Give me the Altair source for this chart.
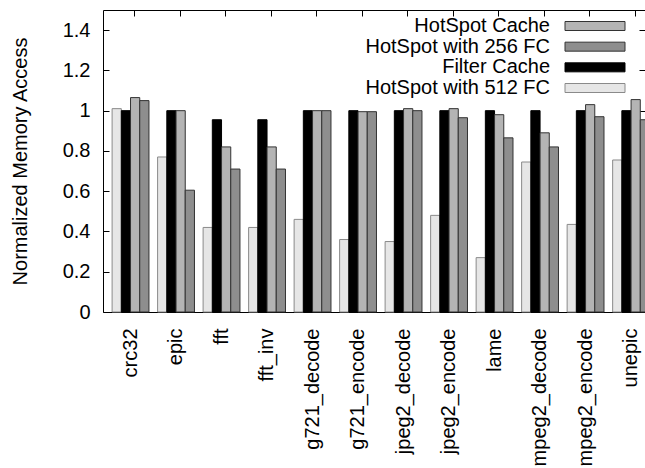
import altair as alt
import pandas as pd

categories = ["crc32", "epic", "fft", "fft_inv", "g721_decode", "g721_encode",
              "jpeg2_decode", "jpeg2_encode", "lame", "mpeg2_decode",
              "mpeg2_encode", "unepic"]
bar_order = ["HotSpot with 512 FC", "Filter Cache", "HotSpot Cache", "HotSpot with 256 FC"]
legend_order = ["HotSpot Cache", "HotSpot with 256 FC", "Filter Cache", "HotSpot with 512 FC"]

hs512 = [1.01, 0.77, 0.42, 0.42, 0.46, 0.36, 0.35, 0.48, 0.27, 0.745, 0.435, 0.755]
filter_cache = [1.0, 1.0, 0.955, 0.955, 1.0, 1.0, 1.0, 1.0, 1.0, 1.0, 1.0, 1.0]
hotspot_cache = [1.065, 1.0, 0.82, 0.82, 1.0, 0.995, 1.01, 1.01, 0.98, 0.89, 1.03, 1.055]
hs256 = [1.05, 0.605, 0.71, 0.71, 1.0, 0.995, 1.0, 0.965, 0.865, 0.82, 0.97, 0.955]

y_ticks = [0, 0.2, 0.4, 0.6, 0.8, 1.0, 1.2, 1.4]

series_values = {
    "HotSpot with 512 FC": hs512,
    "Filter Cache": filter_cache,
    "HotSpot Cache": hotspot_cache,
    "HotSpot with 256 FC": hs256,
}
rows = []
for s, vals in series_values.items():
    for c, v in zip(categories, vals):
        rows.append({"cat": c, "series": s, "value": v})
df = pd.DataFrame(rows)
legend_df = pd.DataFrame({"series": legend_order})

FONT = "Liberation Sans"
fill_scale = alt.Scale(domain=legend_order, range=["#b4b4b4", "#8e8e8e", "#000000", "#e6e6e6"])
stroke_scale = alt.Scale(domain=legend_order, range=["#333333", "#333333", "#000000", "#8a8a8a"])
x_scale = alt.Scale(domain=categories, paddingInner=0.19, paddingOuter=0.2, range=[0, 555.6])
y_scale = alt.Scale(domain=[0, 1.5], nice=False, zero=True)

bars = alt.Chart(df).mark_bar(strokeWidth=1).encode(
    x=alt.X("cat:N", scale=x_scale, sort=categories,
            axis=alt.Axis(orient="bottom", domain=False, ticks=False, labelAngle=270,
                          labelAlign="right", labelBaseline="middle", labelPadding=16,
                          labelFontSize=20, bandPosition=0.677, title=None, grid=False)),
    xOffset=alt.XOffset("series:N", scale=alt.Scale(domain=bar_order)),
    y=alt.Y("value:Q", scale=y_scale,
            axis=alt.Axis(orient="left", values=y_ticks, format=".1~f", domain=False,
                          tickSize=6, offset=-6, labelPadding=13, labelFontSize=20,
                          title="Normalized Memory Access", titleFontSize=20,
                          titleFontWeight="normal", titlePadding=32, grid=False)),
    fill=alt.Fill("series:N", scale=fill_scale, legend=None),
    stroke=alt.Stroke("series:N", scale=stroke_scale, legend=None),
)

mirror = alt.Chart(df).mark_tick(opacity=0).encode(
    x=alt.X("cat:N", scale=x_scale, sort=categories,
            axis=alt.Axis(orient="top", labels=False, domain=False, tickSize=6, offset=-6,
                          bandPosition=0.61, title=None, grid=False)),
    y=alt.Y("value:Q", scale=y_scale,
            axis=alt.Axis(orient="right", values=y_ticks, labels=False, domain=False,
                          tickSize=6, offset=-6, title=None, grid=False)),
)

leg_y = alt.Y("series:N", scale=alt.Scale(domain=legend_order, range=[16, 78], padding=0), axis=None)

legend_sw = alt.Chart(legend_df).mark_point(
    shape="M-1,-0.15H1V0.15H-1Z", size=3600, filled=True, opacity=1, strokeWidth=1
).encode(
    x=alt.value(492),
    y=leg_y,
    fill=alt.Fill("series:N", scale=fill_scale, legend=None),
    stroke=alt.Stroke("series:N", scale=stroke_scale, legend=None),
)

legend_tx = alt.Chart(legend_df).mark_text(
    align="right", baseline="middle", fontSize=20, font=FONT, color="black"
).encode(
    x=alt.value(447),
    y=leg_y,
    text="series:N",
)

chart = alt.layer(bars, mirror, legend_sw, legend_tx).resolve_scale(
    y="independent"
).resolve_axis(
    x="independent", y="independent"
).properties(
    width=542, height=302,
    autosize=alt.AutoSizeParams(type="none"),
    padding={"left": 103, "top": 10, "right": 0, "bottom": 156},
    background="white",
).configure_view(
    stroke="black", strokeWidth=1
).configure_axis(
    labelFont=FONT, titleFont=FONT, labelColor="black", titleColor="black",
    tickColor="black", tickWidth=1
)

chart.save("out.html", embed_options={"renderer": "svg", "actions": False})
